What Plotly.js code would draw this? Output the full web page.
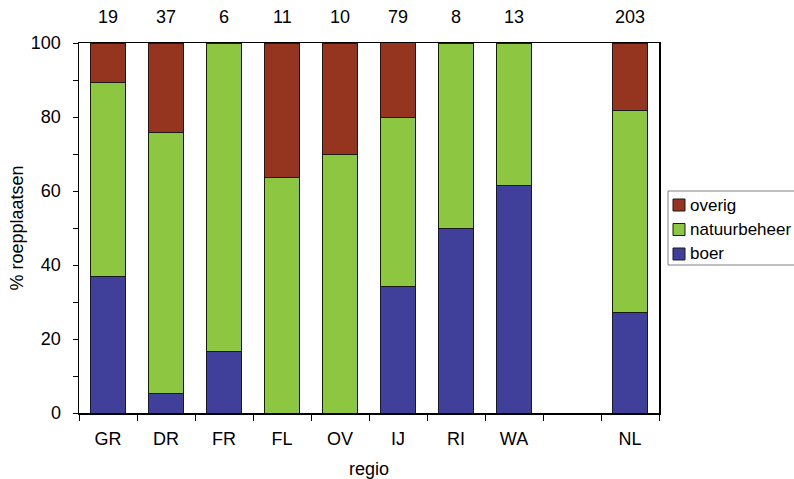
<!DOCTYPE html>
<html>
<head>
<meta charset="utf-8">
<script src="https://cdn.plot.ly/plotly-3.0.1.min.js"></script>
<style>html,body{margin:0;padding:0;background:#fff;}#chart{width:794px;height:479px;}</style>
</head>
<body>
<div id="chart"></div>
<script>
const regions = ['GR','DR','FR','FL','OV','IJ','RI','WA',' ','NL'];
const counts = ['19','37','6','11','10','79','8','13','','203'];
const boer = [36.8, 5.4, 16.7, 0, 0, 34.2, 50, 61.5, null, 27.1];
const natuurbeheer = [52.6, 70.3, 83.3, 63.6, 70, 45.6, 50, 38.5, null, 54.7];
const overig = [10.5, 24.3, 0, 36.4, 30, 20.3, 0, 0, null, 18.2];
const seriesNames = ['boer', 'natuurbeheer', 'overig'];
const seriesColors = ['#40409a', '#8dc641', '#953520'];

const FONT = 'Liberation Sans, Arial, sans-serif';
const FS = 18;
const lineStyle = {color: '#1a1a1a', width: 1};
const seriesData = [boer, natuurbeheer, overig];

const traces = seriesData.map((d, i) => ({
  name: seriesNames[i], x: regions, y: d, type: 'bar',
  marker: {color: seriesColors[i], line: lineStyle}, showlegend: false
}));

const annotations = regions.map((r, i) => ({
  x: r, y: 1, xref: 'x', yref: 'paper', yanchor: 'middle', yshift: 26,
  text: counts[i], showarrow: false, font: {family: FONT, size: FS, color: '#000'}
}));

// Legend drawn in paper space (outside plot, at the right edge like the original)
const W = 794, H = 479, ML = 79, MR = 135, MT = 43, MB = 66;
const PW = W - ML - MR, PH = H - MT - MB;
const px = x => (x - ML) / PW;
const py = y => (H - MB - y) / PH;
const shapes = [
  {type: 'rect', xref: 'paper', yref: 'paper', x0: px(668), x1: px(800), y0: py(265), y1: py(191),
   line: {color: '#808080', width: 1}, fillcolor: '#fff', layer: 'above'}
];
const legendOrder = [2, 1, 0];
legendOrder.forEach((si, k) => {
  const cy = 205 + k * 24.5;
  shapes.push({type: 'rect', xref: 'paper', yref: 'paper', x0: px(673), x1: px(685), y0: py(cy + 6), y1: py(cy - 6),
    fillcolor: seriesColors[si], line: {color: '#1a1a1a', width: 1}, layer: 'above'});
  annotations.push({x: px(688), y: py(cy), xref: 'paper', yref: 'paper', xanchor: 'left', yanchor: 'middle',
    text: seriesNames[si], showarrow: false, font: {family: FONT, size: 17, color: '#000'}});
});

const layout = {
  width: W, height: H,
  margin: {l: ML, r: MR, t: MT, b: MB, autoexpand: false},
  paper_bgcolor: '#fff', plot_bgcolor: '#fff',
  barmode: 'stack', bargap: 0.41,
  font: {family: FONT, size: FS, color: '#000'},
  showlegend: false,
  xaxis: {
    type: 'category', categoryorder: 'array', categoryarray: regions,
    showline: true, linecolor: '#000', linewidth: 1.5, mirror: true,
    ticks: 'outside', tickson: 'boundaries', ticklen: 6, tickcolor: '#000', tickwidth: 1,
    ticklabelstandoff: 9,
    tickfont: {family: FONT, size: FS, color: '#000'},
    title: {text: 'regio', font: {family: FONT, size: FS, color: '#000'}, standoff: 16},
    automargin: false, showgrid: false, zeroline: false, fixedrange: true
  },
  yaxis: {
    range: [0, 100], dtick: 20, tick0: 0,
    showline: true, linecolor: '#000', linewidth: 1.5, mirror: true,
    ticks: 'outside', ticklen: 5, tickcolor: '#000', tickwidth: 1,
    minor: {dtick: 10, ticks: 'outside', ticklen: 5, tickcolor: '#000', showgrid: false},
    ticklabelstandoff: 8,
    tickfont: {family: FONT, size: FS, color: '#000'},
    title: {text: '% roepplaatsen', font: {family: FONT, size: FS, color: '#000'}, standoff: 2},
    automargin: false, showgrid: false, zeroline: false, fixedrange: true
  },
  shapes: shapes,
  annotations: annotations
};

Plotly.newPlot('chart', traces, layout, {displayModeBar: false, staticPlot: true});
</script>
</body>
</html>
